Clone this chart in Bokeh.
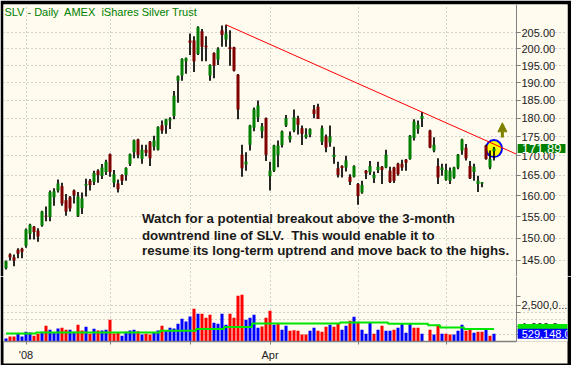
import numpy as np
from bokeh.plotting import figure
from bokeh.layouts import column
from bokeh.models import Range1d, FixedTicker, PrintfTickFormatter, Label, Arrow, NormalHead
from bokeh.embed import file_html
from bokeh.resources import INLINE

# ---------------- data ----------------
title_text = "SLV - Daily\u00a0 AMEX\u00a0 iShares Silver Trust"
note_lines = ["Watch for a potential breakout above the 3-month",
              "downtrend line of SLV.\u00a0 This would enable it to",
              "resume its long-term uptrend and move back to the highs."]
month_idx = [5, 26, 46, 66, 88, 110]
month_lbl = ["'08", "", "", "Apr", "", ""]
price_ticks = [145, 150, 155, 160, 165, 170, 175, 180, 185, 190, 195, 200, 205]
vol_ticks = [1000000, 2500000]
vol_tick_lbl = ["1,000,0...", "2,500,0..."]

N = None
opens = [143.3, 146.3, 145.7, 147.4, 147.6, 148.3, 151.0, 152.6, 151.7, 152.9,
         155.2, 154.9, 159.6, 161.3, 162.3, 158.9, 159.6, 161.3, 155.2, 157.0,
         162.5, 163.7, 163.4, 166.2, 164.9, 165.9, 170.4, 163.2, 163.0, 165.1,
         165.1, 167.9, 170.9, 174.3, 169.2, 171.6, 173.7, 172.4, 171.6, 178.1,
         178.1, 179.4, 180.6, 190.6, 192.1, 196.3, 202.6, 202.6, 198.5, 205.5,
         201.0, 192.1, 198.8, 196.8, 205.8, 202.9, 200.5, 200.5, 192.3, 170.3,
         167.8, 172.9, 177.4, 180.3, 176.5, 180.0, 164.8, 166.2, 170.2, 172.8,
         178.0, 174.3, 176.7, 180.0, 177.3, 174.9, 175.6, 182.4, 183.2, 173.7,
         175.1, 173.5, 169.7, 166.8, 167.4, 167.0, 164.7, 164.7, 162.9, 160.8,
         166.2, 165.8, 164.3, 166.4, 167.2, 167.0, 166.2, 167.0, 168.0, 168.0,
         169.0, 169.2, 174.7, 177.1, 179.9, N, 176.7, 171.4, 167.4, 166.4,
         163.9, 163.7, 164.5, 167.0, 171.4, 172.1, 167.4, 165.9, 162.9, 163.0,
         172.7, 167.0, 171.2]
highs = [145.0, 146.6, 146.3, 147.7, 147.8, 152.2, 153.3, 152.8, 152.3, 156.4,
         157.4, 161.3, 161.8, 164.0, 163.2, 160.4, 159.9, 161.5, 160.9, 160.8,
         164.2, 164.1, 166.2, 166.6, 167.9, 169.0, 170.6, 166.4, 164.0, 165.3,
         167.1, 170.6, 174.3, 174.5, 172.9, 172.9, 173.9, 175.3, 177.8, 179.4,
         179.9, 180.3, 187.6, 192.1, 197.2, 197.4, 204.8, 203.9, 207.0, 206.2,
         203.9, 195.4, 199.0, 200.5, 207.3, 207.5, 205.8, 200.7, 192.5, 172.9,
         170.9, 178.2, 183.0, 184.9, 178.7, 180.2, 168.5, 172.9, 174.0, 176.7,
         180.9, 176.4, 182.4, 180.7, 178.0, 177.3, 177.3, 183.7, 184.0, 178.0,
         175.6, 178.0, 172.4, 168.5, 167.6, 170.0, 165.3, 167.6, 163.1, 163.7,
         166.4, 168.7, 166.0, 168.5, 167.4, 171.6, 167.2, 167.2, 168.2, 169.0,
         169.2, 175.5, 179.7, 179.4, 181.7, N, 176.9, 174.9, 169.4, 168.0,
         168.0, 167.0, 167.2, 170.5, 174.5, 173.1, 168.7, 168.0, 164.9, 163.4,
         172.9, 171.4, 172.3]
lows = [143.0, 145.0, 143.7, 145.5, 145.5, 147.8, 149.7, 149.7, 149.2, 152.6,
        153.9, 153.9, 157.6, 160.8, 157.6, 155.2, 156.2, 158.1, 154.9, 155.6,
        159.8, 161.3, 162.6, 163.2, 164.1, 165.1, 164.7, 162.1, 160.8, 162.6,
        163.7, 167.4, 169.4, 169.4, 168.0, 169.9, 167.4, 171.4, 171.4, 175.8,
        175.8, 177.1, 179.7, 184.3, 190.6, 192.6, 198.2, 193.1, 198.2, 196.3,
        196.3, 190.6, 191.3, 195.2, 200.7, 200.7, 195.0, 193.3, 179.7, 164.7,
        166.2, 171.4, 176.5, 179.0, 174.6, 168.7, 161.3, 165.9, 167.1, 172.2,
        177.6, 173.5, 176.2, 175.6, 172.8, 174.5, 174.9, 180.0, 179.8, 172.8,
        170.9, 172.4, 168.0, 164.5, 164.5, 166.0, 162.6, 164.5, 157.8, 160.5,
        164.1, 165.1, 163.1, 165.6, 162.9, 166.8, 163.1, 163.1, 164.9, 166.2,
        166.2, 169.0, 174.0, 175.8, 177.6, N, 172.0, 170.9, 162.9, 164.9,
        163.7, 162.9, 164.2, 166.6, 170.3, 168.8, 164.1, 163.7, 160.9, 162.1,
        169.0, 166.6, 168.8]
closes = [144.8, 145.7, 145.0, 146.5, 146.9, 152.0, 153.1, 151.4, 150.4, 156.2,
          155.0, 160.9, 161.1, 163.0, 158.1, 156.2, 156.9, 160.1, 159.8, 159.3,
          162.9, 162.6, 165.6, 165.1, 167.0, 168.4, 165.9, 165.3, 161.6, 163.7,
          166.9, 170.4, 174.1, 170.3, 171.6, 170.8, 169.4, 174.0, 177.6, 176.7,
          179.7, 179.8, 186.3, 191.9, 197.0, 197.2, 201.9, 196.3, 206.7, 200.7,
          200.5, 195.2, 195.0, 200.0, 204.3, 204.8, 200.0, 193.5, 182.4, 166.8,
          168.5, 178.0, 182.5, 183.5, 177.8, 170.3, 166.2, 172.7, 172.7, 176.4,
          180.0, 175.3, 180.3, 178.2, 175.8, 175.6, 177.1, 181.2, 179.8, 177.3,
          172.2, 175.1, 170.3, 165.1, 166.9, 168.8, 163.4, 167.4, 159.9, 162.6,
          165.5, 167.4, 165.2, 167.2, 166.4, 170.3, 163.4, 163.7, 165.3, 167.0,
          168.2, 175.3, 179.1, 178.2, 180.6, N, 172.2, 172.9, 164.5, 167.0,
          166.4, 166.2, 167.0, 170.3, 174.3, 169.4, 164.3, 167.2, 163.7, 163.3,
          169.2, 169.2, 171.89]
# volume in thousands of shares
vol_k = [210, 350, 350, 530, 350, 670, 620, 390, 530, 670,
         1080, 800, 620, 900, 940, 800, 800, 670, 1150, 760,
         1010, 530, 870, 760, 760, 800, 1490, 550, 620, 390,
         670, 760, 800, 710, 480, 530, 480, 620, 760, 1080,
         760, 940, 900, 1220, 1560, 1380, 1720, 2250, 1900, 1900,
         1630, 1830, 1280, 1220, 1900, 1150, 1900, 1630, 3140, 3210,
         1490, 1630, 1830, 940, 1030, 1630, 2110, 1150, 1240, 800,
         1080, 730, 780, 730, 480, 480, 730, 940, 730, 670,
         1010, 1150, 1010, 1220, 800, 1080, 1420, 1700, 1310, 800,
         530, 1280, 530, 800, 1080, 730, 730, 800, 940, 1220,
         600, 1220, 940, 940, 530, N, 800, 480, 1150, 530,
         530, 480, 480, 730, 1150, 730, 800, 600, 670, 670,
         870, 390, 529.148]
# u = up-volume (blue), d = down-volume (red), - = no bar
vol_dir = ("udduuuuddu" "duuudduudd" "ududuudddu" "uuududduud" "uuuuuuudud"
           "dduuuudddd" "uuuudddudu" "uddddduudd" "dudduududu" "uududuuduu"
           "uuddu-dudu" "dduuuddudd" "udu")
# stepped volume moving average (thousands)
vol_ma_k = ([550] * 8 + [620] * 31 + [730] * 9 + [850] * 7 + [1000] * 7 +
            [1240] * 22 + [1310] * 12 + [1220] * 10 + [1120] * 3 + [960] * 6 + [850] * 8)
trend_from, trend_to = 55, 104

# ---------------- styling ----------------
BG = "#FFFBEF"
GRID = "#A8A8A8"
AX = "#808080"
FONT = "Liberation Sans"
W = 571
H1, H2 = 276, 89
AXIS_X = 127.625          # bar-index position of the right price/volume axis

idx = np.arange(len(closes), dtype=float)
o = np.array(opens, dtype=float)
h = np.array(highs, dtype=float)
l = np.array(lows, dtype=float)
c = np.array(closes, dtype=float)
v = np.array(vol_k, dtype=float) * 1000.0
ma = np.array(vol_ma_k, dtype=float) * 1000.0

xr = Range1d(-0.625, 140.375)


def style_grid(p):
    for g in (p.xgrid, p.ygrid):
        g.grid_line_color = GRID
        g.grid_line_dash = "1 3"
        g.grid_line_width = 1
    p.xgrid.ticker = FixedTicker(ticks=month_idx)


def style_yaxis(ax):
    ax.fixed_location = AXIS_X
    ax.axis_line_color = AX
    ax.major_tick_line_color = AX
    ax.major_tick_out = 4
    ax.major_tick_in = 0
    ax.major_label_text_font = FONT
    ax.major_label_text_font_size = "11px"
    ax.major_label_text_color = "#222222"
    ax.major_label_standoff = 1


# ---------------- price panel ----------------
p1 = figure(width=W, height=H1, x_range=xr, y_range=Range1d(141.5, 214.0),
            y_axis_type="log", y_axis_location="right", toolbar_location=None,
            output_backend="svg", min_border_left=3, min_border_top=4,
            min_border_bottom=0, min_border_right=4)
p1.background_fill_color = BG
p1.border_fill_color = "black"
p1.outline_line_color = None
p1.xaxis.visible = False

ya = p1.yaxis[0]
ya.ticker = FixedTicker(ticks=price_ticks)
ya.formatter = PrintfTickFormatter(format="%.2f")
ya.minor_tick_line_color = None
style_yaxis(ya)

style_grid(p1)
p1.ygrid.ticker = FixedTicker(ticks=price_ticks)
p1.ygrid.bounds = (xr.start, AXIS_X)

# highlight circle around latest bar
p1.ellipse(x=[idx[-1]], y=[c[-1]], width=16, height=17,
           width_units="screen", height_units="screen",
           fill_color="#FFFF00", line_color="#0000FF", line_width=2)

up = c >= o
body_col = np.where(up, "#008000", "#800000")
p1.segment(x0=idx, y0=h, x1=idx, y1=l, line_color="black", line_width=1.7)
p1.vbar(x=idx, width=0.75, top=np.maximum(o, c), bottom=np.minimum(o, c),
        fill_color=body_col, line_color=None)

# downtrend line through the two highs, extended to the axis
slope = (np.log(h[trend_to]) - np.log(h[trend_from])) / (trend_to - trend_from)
y_end = h[trend_from] * np.exp(slope * (AXIS_X - trend_from))
p1.line([trend_from, AXIS_X], [h[trend_from], y_end], line_color="#FF0000", line_width=1)

# breakout arrow
ax_x = idx[-1] + 2.1
p1.add_layout(Arrow(x_start=ax_x, y_start=c[-1] * 1.017, x_end=ax_x, y_end=c[-1] * 1.040,
                    line_color="#808000", line_width=3,
                    end=NormalHead(size=9, fill_color="#808000", line_color="#808000")))

p1.add_layout(Label(x=-0.4, y=211.6, text=title_text, text_font=FONT,
                    text_font_size="11px", text_color="#008000",
                    text_baseline="middle", text_align="left"))
for txt, yy in zip(note_lines, [154.6, 150.6, 147.2]):
    p1.add_layout(Label(x=34.0, y=yy, text=txt, text_font=FONT, text_font_size="13.3px",
                        text_font_style="bold", text_color="#1A1A1A",
                        text_baseline="middle", text_align="left"))

p1.add_layout(Label(x=AXIS_X + 0.3, y=c[-1], text=f"{c[-1]:.2f}", text_font=FONT,
                    text_font_size="13px", text_color="white", level="overlay",
                    background_fill_color="#008000", text_baseline="middle",
                    text_align="left", padding=dict(left=4, right=4, top=0, bottom=0)))

# ---------------- volume panel ----------------
p2 = figure(width=W, height=H2, x_range=xr, y_range=Range1d(0, 4.46e6),
            y_axis_location="right", toolbar_location=None, output_backend="svg",
            min_border_left=3, min_border_top=0, min_border_bottom=24,
            min_border_right=4)
p2.background_fill_color = BG
p2.border_fill_color = "black"
p2.outline_line_color = None

va = p2.yaxis[0]
va.ticker = FixedTicker(ticks=vol_ticks, minor_ticks=[500000, 2000000, 3090000])
va.major_label_overrides = {t: s for t, s in zip(vol_ticks, vol_tick_lbl)}
va.minor_tick_line_color = AX
va.minor_tick_out = 4
va.minor_tick_in = 0
style_yaxis(va)

xa = p2.xaxis[0]
xa.ticker = FixedTicker(ticks=month_idx)
xa.major_label_overrides = {t: s for t, s in zip(month_idx, month_lbl)}
xa.bounds = (xr.start, AXIS_X)
xa.axis_line_color = AX
xa.axis_line_width = 1.5
xa.major_tick_line_color = AX
xa.major_tick_out = 3
xa.major_tick_in = 0
xa.minor_tick_line_color = None
xa.major_label_text_font = FONT
xa.major_label_text_font_size = "11px"
xa.major_label_text_color = "#222222"
xa.major_label_standoff = 4
xa.background_fill_color = BG

style_grid(p2)
p2.ygrid.ticker = FixedTicker(ticks=[500000, 1500000, 2000000, 2500000])
p2.ygrid.bounds = (xr.start, AXIS_X)

vol_col = ["#0000FF" if d == "u" else "#FF0000" for d in vol_dir]
p2.vbar(x=idx, width=0.75, top=v, bottom=0, fill_color=vol_col, line_color=None)
p2.step(idx, ma, mode="center", line_color="#00E600", line_width=2)

p2.add_layout(Label(x=AXIS_X + 0.3, y=ma[-1] * 1.08, text=f"{ma[-1]:,.1f}", text_font=FONT,
                    text_font_size="10px", text_color="#00E600", level="overlay",
                    background_fill_color="#00E600", text_baseline="middle",
                    text_align="left", padding=dict(left=2, right=8, top=0, bottom=0)))
p2.add_layout(Label(x=AXIS_X + 0.3, y=v[-1], text=f"{v[-1]:,.1f}", text_font=FONT,
                    text_font_size="11px", text_color="white", level="overlay",
                    background_fill_color="#0000FF", text_baseline="middle",
                    text_align="left", padding=dict(left=4, right=6, top=1, bottom=1)))

layout = column(p1, p2)
open("out.html", "w").write(file_html(layout, INLINE))
